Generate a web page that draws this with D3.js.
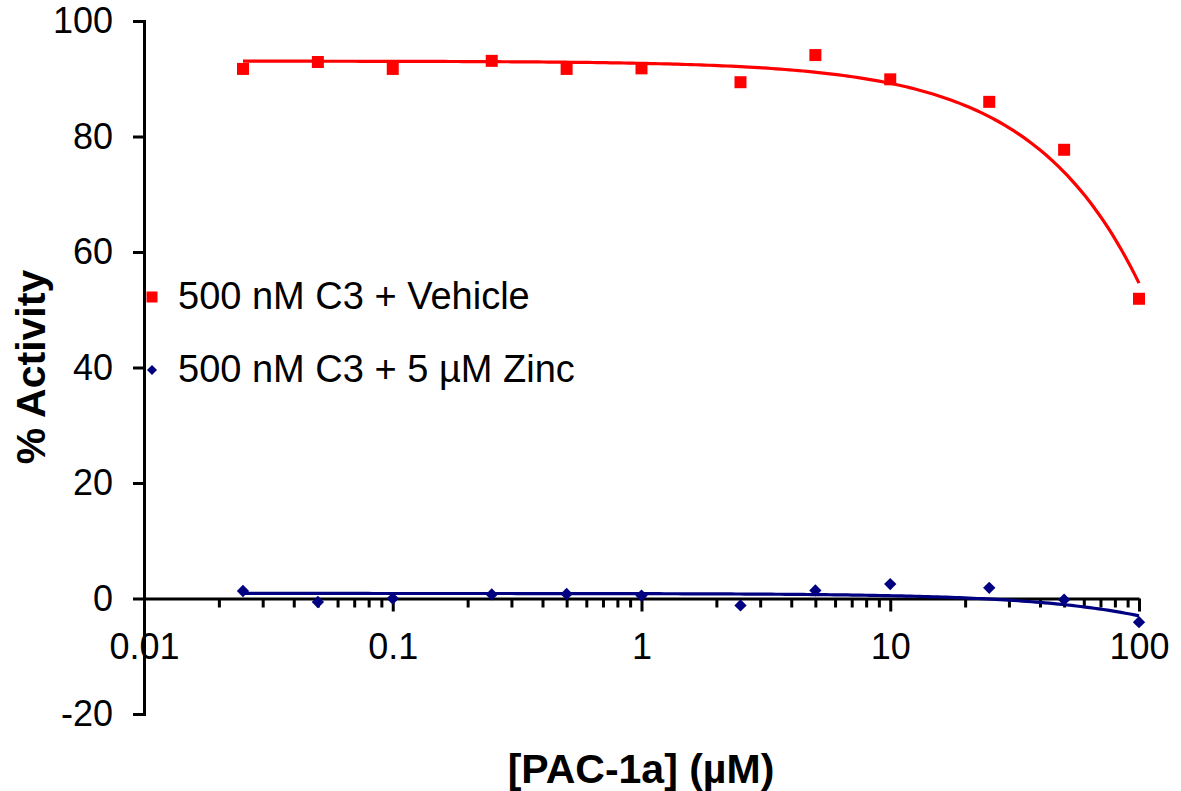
<!DOCTYPE html>
<html>
<head>
<meta charset="utf-8">
<script src="https://cdn.jsdelivr.net/npm/d3@7"></script>
<style>
  body { margin: 0; background: #fff; }
  svg { display: block; font-family: "Liberation Sans", Arial, sans-serif; }
</style>
</head>
<body>
<svg id="chart" width="1181" height="791"></svg>
<script>
// concentrations of PAC-1a (uM)
const concentrations = [0.025, 0.05, 0.1, 0.25, 0.5, 1, 2.5, 5, 10, 25, 50, 100];
// % activity, 500 nM C3 + vehicle
const vehicleValues = [91.7, 92.9, 91.7, 93.1, 91.7, 91.8, 89.4, 94.1, 89.9, 86.0, 77.7, 51.9];
// % activity, 500 nM C3 + 5 uM zinc
const zincValues = [1.3, -0.6, 0.0, 0.7, 0.8, 0.5, -1.2, 1.4, 2.5, 1.85, -0.2, -4.1];
const seriesNames = ["500 nM C3 + Vehicle", "500 nM C3 + 5 \u00b5M Zinc"];
const xTickValues = [0.01, 0.1, 1, 10, 100];
const yTickValues = [-20, 0, 20, 40, 60, 80, 100];

const svg = d3.select("#chart");

const x = d3.scaleLog().domain([0.01, 100]).range([144, 1139]);
const y = d3.scaleLinear().domain([-20, 100]).range([714, 21]);

// least squares straight line, like an Excel linear trendline
function linearFit(xs, ys) {
  const mx = d3.mean(xs), my = d3.mean(ys);
  let sxy = 0, sxx = 0;
  xs.forEach((v, i) => {
    sxy += (v - mx) * (ys[i] - my);
    sxx += (v - mx) * (v - mx);
  });
  const b = sxy / sxx;
  return { a: my - b * mx, b: b };
}

// y axis
const yAxis = d3.axisLeft(y).tickValues(yTickValues).tickSize(11).tickPadding(20).tickFormat(d => String(d));
const gy = svg.append("g").attr("transform", "translate(" + x(0.01) + ",0)").call(yAxis);
gy.select(".domain").attr("stroke-width", 3);
gy.selectAll(".tick line").attr("stroke-width", 3);
gy.selectAll(".tick text").attr("font-size", 36).attr("fill", "#000");

// x axis at y = 0
const minorTicks = [];
[0.01, 0.1, 1, 10].forEach(dec => {
  for (let k = 2; k <= 9; k++) minorTicks.push(dec * k);
});
const gx = svg.append("g").attr("transform", "translate(0," + y(0) + ")");
gx.call(d3.axisBottom(x).tickValues(minorTicks).tickSize(9).tickFormat(""));
gx.select(".domain").remove();
gx.selectAll(".tick line").attr("stroke-width", 3);
const gx2 = svg.append("g").attr("transform", "translate(0," + y(0) + ")");
gx2.call(d3.axisBottom(x).tickValues(xTickValues).tickSize(13).tickSizeOuter(0)
  .tickPadding(22).tickFormat(d => d3.format("~g")(d)));
gx2.select(".domain").attr("stroke-width", 3);
gx2.selectAll(".tick line").attr("stroke-width", 3);
gx2.selectAll(".tick text").attr("font-size", 36).attr("fill", "#000");

// trendlines
const series = [
  { name: seriesNames[0], values: vehicleValues, color: "#ff0000", rotate: 0, size: 144, legendSize: 121 },
  { name: seriesNames[1], values: zincValues, color: "#000080", rotate: 45, size: 76, legendSize: 50 }
];

const sampleX = d3.range(0, 201).map(i => Math.pow(10, Math.log10(0.025) + i / 200 * (Math.log10(100) - Math.log10(0.025))));

series.forEach(s => {
  const fit = linearFit(concentrations, s.values);
  const line = d3.line().x(d => x(d)).y(d => y(fit.a + fit.b * d));
  svg.append("path")
    .attr("d", line(sampleX))
    .attr("fill", "none")
    .attr("stroke", s.color)
    .attr("stroke-width", 3.2);
});

series.forEach(s => {
  svg.append("g").selectAll("path")
    .data(concentrations)
    .join("path")
    .attr("transform", (d, i) => "translate(" + x(d) + "," + y(s.values[i]) + ") rotate(" + s.rotate + ")")
    .attr("d", d3.symbol().type(d3.symbolSquare).size(s.size))
    .attr("fill", s.color);
});

// legend
const legend = svg.append("g");
series.forEach((s, i) => {
  const ly = 297 + i * 73;
  legend.append("path")
    .attr("transform", "translate(152," + ly + ") rotate(" + s.rotate + ")")
    .attr("d", d3.symbol().type(d3.symbolSquare).size(s.legendSize))
    .attr("fill", s.color);
  legend.append("text")
    .attr("x", 178).attr("y", ly + 12)
    .attr("font-size", 38)
    .text(s.name);
});

// axis titles
svg.append("text")
  .attr("x", 641).attr("y", 783)
  .attr("text-anchor", "middle")
  .attr("font-size", 41).attr("font-weight", "bold")
  .text("[PAC-1a] (\u00b5M)");

svg.append("text")
  .attr("transform", "translate(45,367) rotate(-90)")
  .attr("text-anchor", "middle")
  .attr("font-size", 41).attr("font-weight", "bold")
  .text("% Activity");
</script>
</body>
</html>
